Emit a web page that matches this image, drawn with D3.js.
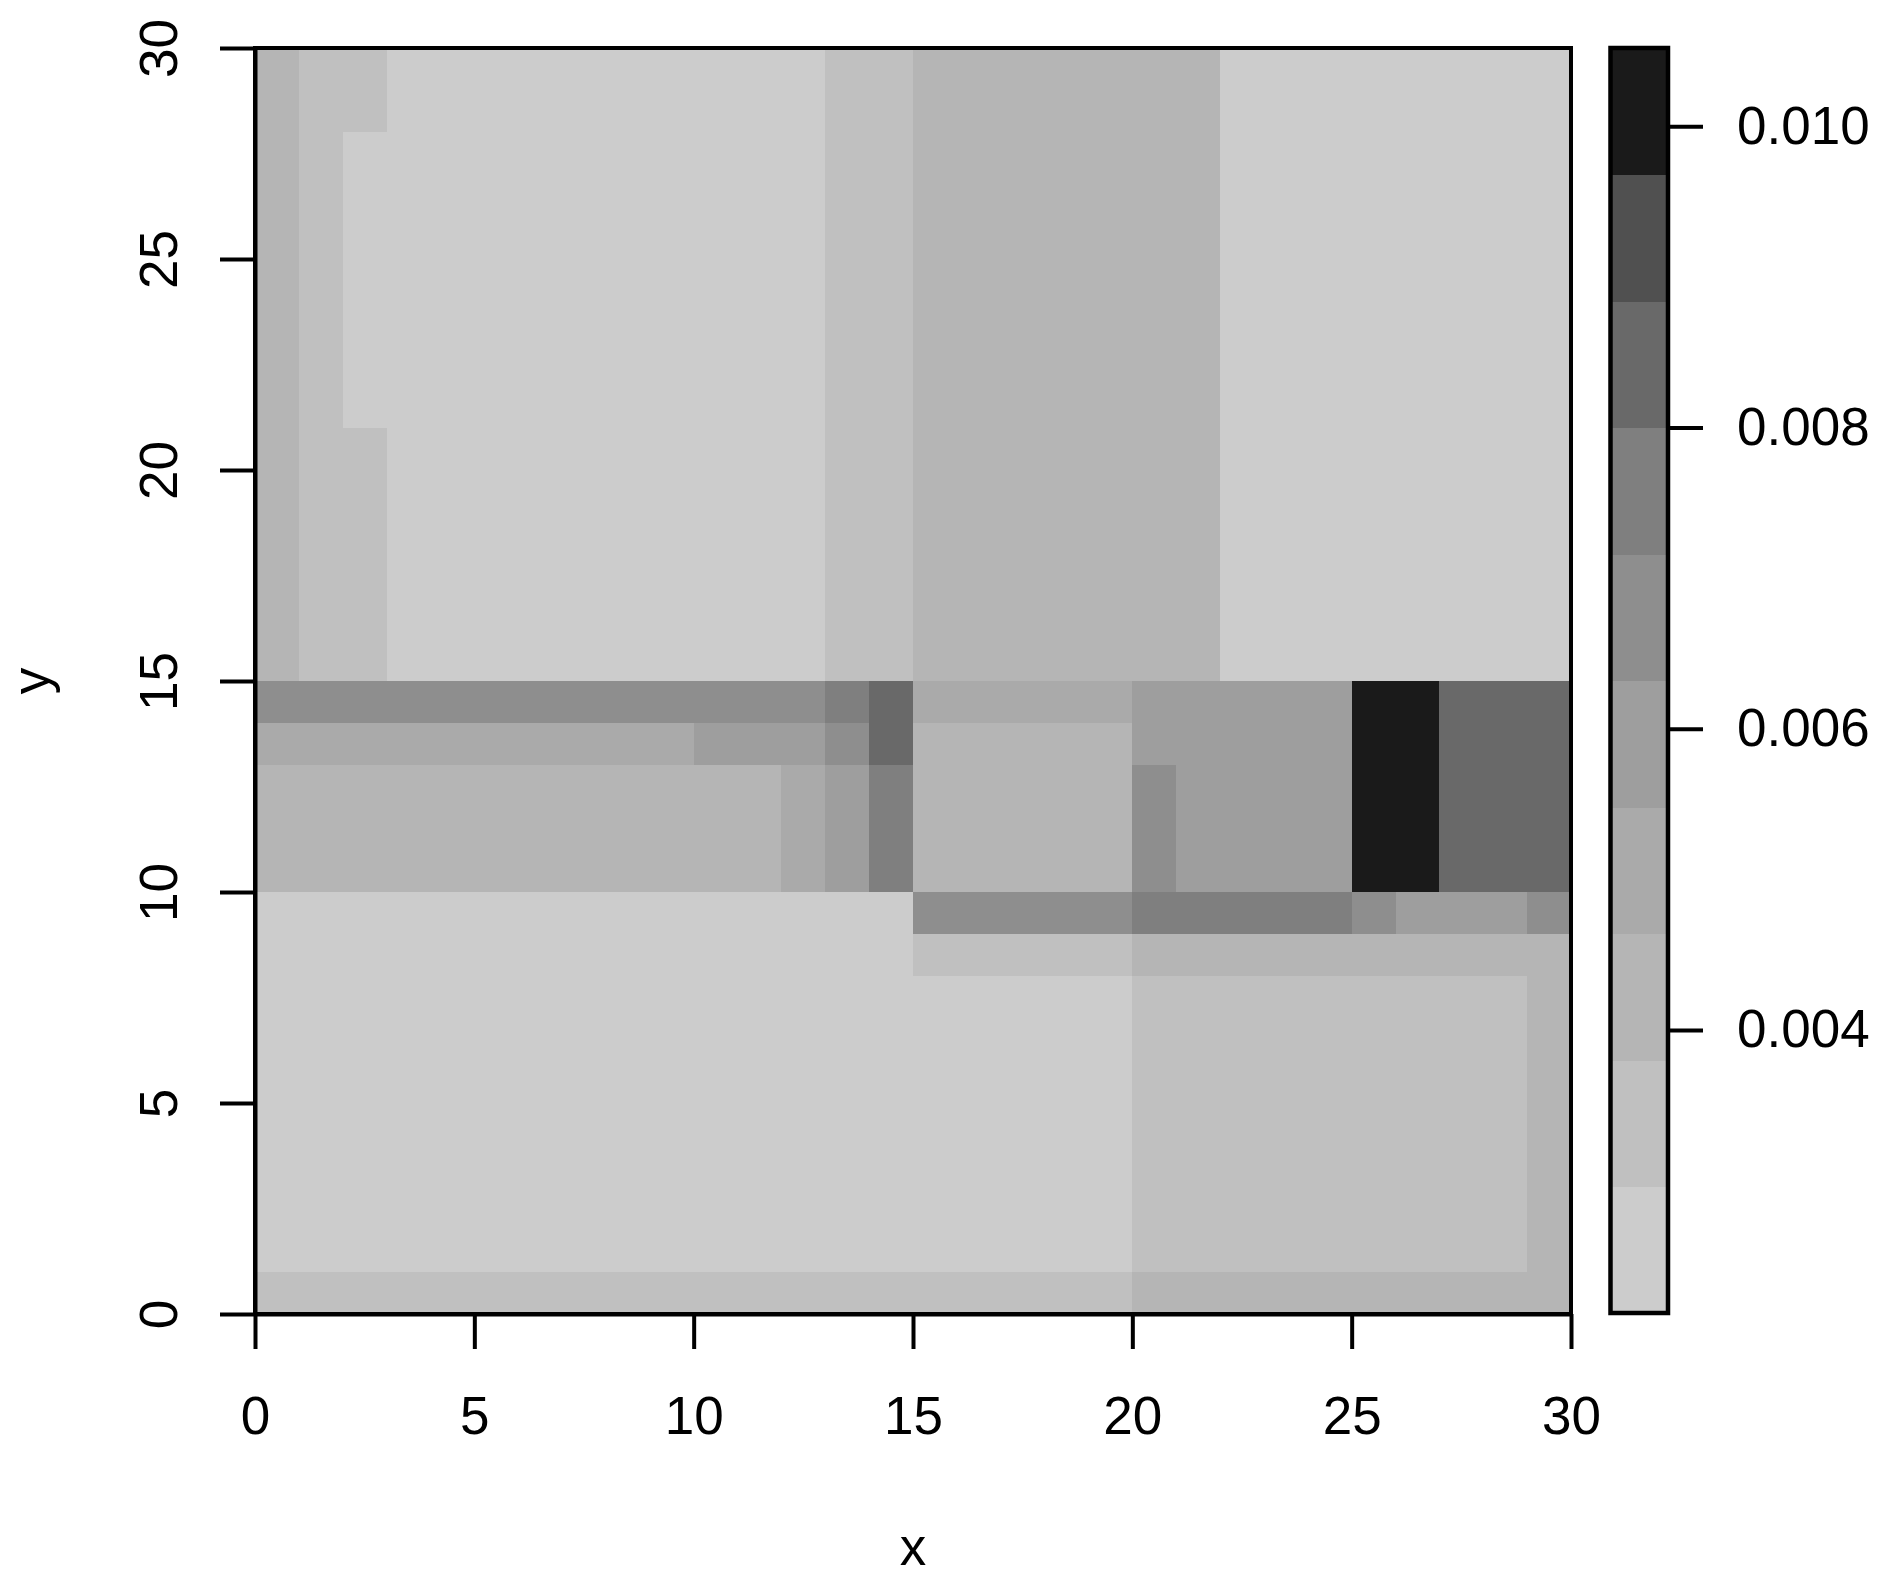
<!DOCTYPE html>
<html>
<head>
<meta charset="utf-8">
<script src="https://cdn.jsdelivr.net/npm/d3@7"></script>
<style>
  html, body { margin: 0; padding: 0; background: #fff; }
  svg text { font-family: "Liberation Sans", Arial, Helvetica, sans-serif; fill: #000; }
</style>
</head>
<body>
<svg id="chart" width="1885" height="1591"></svg>
<script>
// ---- data ----
const xTicks = [0, 5, 10, 15, 20, 25, 30];
const yTicks = [0, 5, 10, 15, 20, 25, 30];
const legendTicks = [0.004, 0.006, 0.008, 0.010];
const legendTickLabels = ["0.004", "0.006", "0.008", "0.010"];
const zRange = [0.00212, 0.01052];
const grayLevels = ["#CCCCCC", "#C0C0C0", "#B5B5B5", "#AAAAAA", "#9E9E9E",
                    "#8E8E8E", "#7F7F7F", "#696969", "#505050", "#1A1A1A"];
const xLabel = "x";
const yLabel = "y";

// z values, one row per y cell, listed from top (y 29-30) to bottom (y 0-1); 30 x cells each
const zRows = [
  [0.0042,0.0034,0.0034,0.0025,0.0025,0.0025,0.0025,0.0025,0.0025,0.0025,0.0025,0.0025,0.0025,0.0034,0.0034,0.0042,0.0042,0.0042,0.0042,0.0042,0.0042,0.0042,0.0025,0.0025,0.0025,0.0025,0.0025,0.0025,0.0025,0.0025],
  [0.0042,0.0034,0.0034,0.0025,0.0025,0.0025,0.0025,0.0025,0.0025,0.0025,0.0025,0.0025,0.0025,0.0034,0.0034,0.0042,0.0042,0.0042,0.0042,0.0042,0.0042,0.0042,0.0025,0.0025,0.0025,0.0025,0.0025,0.0025,0.0025,0.0025],
  [0.0042,0.0034,0.0025,0.0025,0.0025,0.0025,0.0025,0.0025,0.0025,0.0025,0.0025,0.0025,0.0025,0.0034,0.0034,0.0042,0.0042,0.0042,0.0042,0.0042,0.0042,0.0042,0.0025,0.0025,0.0025,0.0025,0.0025,0.0025,0.0025,0.0025],
  [0.0042,0.0034,0.0025,0.0025,0.0025,0.0025,0.0025,0.0025,0.0025,0.0025,0.0025,0.0025,0.0025,0.0034,0.0034,0.0042,0.0042,0.0042,0.0042,0.0042,0.0042,0.0042,0.0025,0.0025,0.0025,0.0025,0.0025,0.0025,0.0025,0.0025],
  [0.0042,0.0034,0.0025,0.0025,0.0025,0.0025,0.0025,0.0025,0.0025,0.0025,0.0025,0.0025,0.0025,0.0034,0.0034,0.0042,0.0042,0.0042,0.0042,0.0042,0.0042,0.0042,0.0025,0.0025,0.0025,0.0025,0.0025,0.0025,0.0025,0.0025],
  [0.0042,0.0034,0.0025,0.0025,0.0025,0.0025,0.0025,0.0025,0.0025,0.0025,0.0025,0.0025,0.0025,0.0034,0.0034,0.0042,0.0042,0.0042,0.0042,0.0042,0.0042,0.0042,0.0025,0.0025,0.0025,0.0025,0.0025,0.0025,0.0025,0.0025],
  [0.0042,0.0034,0.0025,0.0025,0.0025,0.0025,0.0025,0.0025,0.0025,0.0025,0.0025,0.0025,0.0025,0.0034,0.0034,0.0042,0.0042,0.0042,0.0042,0.0042,0.0042,0.0042,0.0025,0.0025,0.0025,0.0025,0.0025,0.0025,0.0025,0.0025],
  [0.0042,0.0034,0.0025,0.0025,0.0025,0.0025,0.0025,0.0025,0.0025,0.0025,0.0025,0.0025,0.0025,0.0034,0.0034,0.0042,0.0042,0.0042,0.0042,0.0042,0.0042,0.0042,0.0025,0.0025,0.0025,0.0025,0.0025,0.0025,0.0025,0.0025],
  [0.0042,0.0034,0.0025,0.0025,0.0025,0.0025,0.0025,0.0025,0.0025,0.0025,0.0025,0.0025,0.0025,0.0034,0.0034,0.0042,0.0042,0.0042,0.0042,0.0042,0.0042,0.0042,0.0025,0.0025,0.0025,0.0025,0.0025,0.0025,0.0025,0.0025],
  [0.0042,0.0034,0.0034,0.0025,0.0025,0.0025,0.0025,0.0025,0.0025,0.0025,0.0025,0.0025,0.0025,0.0034,0.0034,0.0042,0.0042,0.0042,0.0042,0.0042,0.0042,0.0042,0.0025,0.0025,0.0025,0.0025,0.0025,0.0025,0.0025,0.0025],
  [0.0042,0.0034,0.0034,0.0025,0.0025,0.0025,0.0025,0.0025,0.0025,0.0025,0.0025,0.0025,0.0025,0.0034,0.0034,0.0042,0.0042,0.0042,0.0042,0.0042,0.0042,0.0042,0.0025,0.0025,0.0025,0.0025,0.0025,0.0025,0.0025,0.0025],
  [0.0042,0.0034,0.0034,0.0025,0.0025,0.0025,0.0025,0.0025,0.0025,0.0025,0.0025,0.0025,0.0025,0.0034,0.0034,0.0042,0.0042,0.0042,0.0042,0.0042,0.0042,0.0042,0.0025,0.0025,0.0025,0.0025,0.0025,0.0025,0.0025,0.0025],
  [0.0042,0.0034,0.0034,0.0025,0.0025,0.0025,0.0025,0.0025,0.0025,0.0025,0.0025,0.0025,0.0025,0.0034,0.0034,0.0042,0.0042,0.0042,0.0042,0.0042,0.0042,0.0042,0.0025,0.0025,0.0025,0.0025,0.0025,0.0025,0.0025,0.0025],
  [0.0042,0.0034,0.0034,0.0025,0.0025,0.0025,0.0025,0.0025,0.0025,0.0025,0.0025,0.0025,0.0025,0.0034,0.0034,0.0042,0.0042,0.0042,0.0042,0.0042,0.0042,0.0042,0.0025,0.0025,0.0025,0.0025,0.0025,0.0025,0.0025,0.0025],
  [0.0042,0.0034,0.0034,0.0025,0.0025,0.0025,0.0025,0.0025,0.0025,0.0025,0.0025,0.0025,0.0025,0.0034,0.0034,0.0042,0.0042,0.0042,0.0042,0.0042,0.0042,0.0042,0.0025,0.0025,0.0025,0.0025,0.0025,0.0025,0.0025,0.0025],
  [0.0067,0.0067,0.0067,0.0067,0.0067,0.0067,0.0067,0.0067,0.0067,0.0067,0.0067,0.0067,0.0067,0.0076,0.0084,0.0051,0.0051,0.0051,0.0051,0.0051,0.0059,0.0059,0.0059,0.0059,0.0059,0.0101,0.0101,0.0084,0.0084,0.0084],
  [0.0051,0.0051,0.0051,0.0051,0.0051,0.0051,0.0051,0.0051,0.0051,0.0051,0.0059,0.0059,0.0059,0.0067,0.0084,0.0042,0.0042,0.0042,0.0042,0.0042,0.0059,0.0059,0.0059,0.0059,0.0059,0.0101,0.0101,0.0084,0.0084,0.0084],
  [0.0042,0.0042,0.0042,0.0042,0.0042,0.0042,0.0042,0.0042,0.0042,0.0042,0.0042,0.0042,0.0051,0.0059,0.0076,0.0042,0.0042,0.0042,0.0042,0.0042,0.0067,0.0059,0.0059,0.0059,0.0059,0.0101,0.0101,0.0084,0.0084,0.0084],
  [0.0042,0.0042,0.0042,0.0042,0.0042,0.0042,0.0042,0.0042,0.0042,0.0042,0.0042,0.0042,0.0051,0.0059,0.0076,0.0042,0.0042,0.0042,0.0042,0.0042,0.0067,0.0059,0.0059,0.0059,0.0059,0.0101,0.0101,0.0084,0.0084,0.0084],
  [0.0042,0.0042,0.0042,0.0042,0.0042,0.0042,0.0042,0.0042,0.0042,0.0042,0.0042,0.0042,0.0051,0.0059,0.0076,0.0042,0.0042,0.0042,0.0042,0.0042,0.0067,0.0059,0.0059,0.0059,0.0059,0.0101,0.0101,0.0084,0.0084,0.0084],
  [0.0025,0.0025,0.0025,0.0025,0.0025,0.0025,0.0025,0.0025,0.0025,0.0025,0.0025,0.0025,0.0025,0.0025,0.0025,0.0067,0.0067,0.0067,0.0067,0.0067,0.0076,0.0076,0.0076,0.0076,0.0076,0.0067,0.0059,0.0059,0.0059,0.0067],
  [0.0025,0.0025,0.0025,0.0025,0.0025,0.0025,0.0025,0.0025,0.0025,0.0025,0.0025,0.0025,0.0025,0.0025,0.0025,0.0034,0.0034,0.0034,0.0034,0.0034,0.0042,0.0042,0.0042,0.0042,0.0042,0.0042,0.0042,0.0042,0.0042,0.0042],
  [0.0025,0.0025,0.0025,0.0025,0.0025,0.0025,0.0025,0.0025,0.0025,0.0025,0.0025,0.0025,0.0025,0.0025,0.0025,0.0025,0.0025,0.0025,0.0025,0.0025,0.0034,0.0034,0.0034,0.0034,0.0034,0.0034,0.0034,0.0034,0.0034,0.0042],
  [0.0025,0.0025,0.0025,0.0025,0.0025,0.0025,0.0025,0.0025,0.0025,0.0025,0.0025,0.0025,0.0025,0.0025,0.0025,0.0025,0.0025,0.0025,0.0025,0.0025,0.0034,0.0034,0.0034,0.0034,0.0034,0.0034,0.0034,0.0034,0.0034,0.0042],
  [0.0025,0.0025,0.0025,0.0025,0.0025,0.0025,0.0025,0.0025,0.0025,0.0025,0.0025,0.0025,0.0025,0.0025,0.0025,0.0025,0.0025,0.0025,0.0025,0.0025,0.0034,0.0034,0.0034,0.0034,0.0034,0.0034,0.0034,0.0034,0.0034,0.0042],
  [0.0025,0.0025,0.0025,0.0025,0.0025,0.0025,0.0025,0.0025,0.0025,0.0025,0.0025,0.0025,0.0025,0.0025,0.0025,0.0025,0.0025,0.0025,0.0025,0.0025,0.0034,0.0034,0.0034,0.0034,0.0034,0.0034,0.0034,0.0034,0.0034,0.0042],
  [0.0025,0.0025,0.0025,0.0025,0.0025,0.0025,0.0025,0.0025,0.0025,0.0025,0.0025,0.0025,0.0025,0.0025,0.0025,0.0025,0.0025,0.0025,0.0025,0.0025,0.0034,0.0034,0.0034,0.0034,0.0034,0.0034,0.0034,0.0034,0.0034,0.0042],
  [0.0025,0.0025,0.0025,0.0025,0.0025,0.0025,0.0025,0.0025,0.0025,0.0025,0.0025,0.0025,0.0025,0.0025,0.0025,0.0025,0.0025,0.0025,0.0025,0.0025,0.0034,0.0034,0.0034,0.0034,0.0034,0.0034,0.0034,0.0034,0.0034,0.0042],
  [0.0025,0.0025,0.0025,0.0025,0.0025,0.0025,0.0025,0.0025,0.0025,0.0025,0.0025,0.0025,0.0025,0.0025,0.0025,0.0025,0.0025,0.0025,0.0025,0.0025,0.0034,0.0034,0.0034,0.0034,0.0034,0.0034,0.0034,0.0034,0.0034,0.0042],
  [0.0034,0.0034,0.0034,0.0034,0.0034,0.0034,0.0034,0.0034,0.0034,0.0034,0.0034,0.0034,0.0034,0.0034,0.0034,0.0034,0.0034,0.0034,0.0034,0.0034,0.0042,0.0042,0.0042,0.0042,0.0042,0.0042,0.0042,0.0042,0.0042,0.0042]
];

// ---- layout ----
const FONT = 53;
const LW = 4;
const plot = { left: 255, right: 1571, top: 48, bottom: 1314 };
const legendBox = { left: 1610.5, right: 1668 };

const svg = d3.select("#chart");
svg.append("rect").attr("width", 1885).attr("height", 1591).attr("fill", "#fff");

const x = d3.scaleLinear().domain([0, 30]).range([plot.left, plot.right]);
const y = d3.scaleLinear().domain([0, 30]).range([plot.bottom, plot.top]);
const color = d3.scaleQuantize().domain(zRange).range(grayLevels);

// cells
const nRows = zRows.length;
const cells = [];
zRows.forEach((row, r) => {
  if (row.length !== 30) throw new Error("row " + r + " has " + row.length + " values");
  const j = nRows - 1 - r;
  row.forEach((z, i) => cells.push({ i, j, z }));
});

svg.append("g").attr("shape-rendering", "crispEdges")
  .selectAll("rect").data(cells).join("rect")
  .attr("x", d => x(d.i))
  .attr("y", d => y(d.j + 1))
  .attr("width", d => x(d.i + 1) - x(d.i) + 0.5)
  .attr("height", d => y(d.j) - y(d.j + 1) + 0.5)
  .attr("fill", d => color(d.z));

// axes
const xAxis = svg.append("g")
  .attr("transform", `translate(0,${plot.bottom})`)
  .call(d3.axisBottom(x).tickValues(xTicks).tickSize(35).tickSizeOuter(0).tickPadding(47).tickFormat(d3.format("d")));
const yAxis = svg.append("g")
  .attr("transform", `translate(${plot.left},0)`)
  .call(d3.axisLeft(y).tickValues(yTicks).tickSize(35).tickSizeOuter(0).tickFormat(d3.format("d")));

[xAxis, yAxis].forEach(g => {
  g.attr("font-family", null).attr("font-size", null);
  g.selectAll("path.domain").attr("stroke", "#000").attr("stroke-width", LW);
  g.selectAll(".tick line").attr("stroke", "#000").attr("stroke-width", LW);
  g.selectAll(".tick text").attr("font-size", FONT).attr("fill", "#000");
});
yAxis.selectAll(".tick text")
  .attr("x", null).attr("dy", null)
  .attr("text-anchor", "middle")
  .attr("transform", "translate(-78,0) rotate(-90)");

// plot box
svg.append("rect")
  .attr("x", plot.left).attr("y", plot.top)
  .attr("width", plot.right - plot.left).attr("height", plot.bottom - plot.top)
  .attr("fill", "none").attr("stroke", "#000").attr("stroke-width", LW);

// axis titles
svg.append("text").attr("x", (plot.left + plot.right) / 2).attr("y", 1565)
  .attr("text-anchor", "middle").attr("font-size", FONT).text(xLabel);
svg.append("text")
  .attr("transform", `translate(49,${(plot.top + plot.bottom) / 2}) rotate(-90)`)
  .attr("text-anchor", "middle").attr("font-size", FONT).text(yLabel);

// legend
const ly = d3.scaleLinear().domain(zRange).range([plot.bottom - 1, plot.top]);
const step = (zRange[1] - zRange[0]) / grayLevels.length;
const bands = grayLevels.map((c, k) => ({ lo: zRange[0] + k * step, hi: zRange[0] + (k + 1) * step, c }));
svg.append("g").attr("shape-rendering", "crispEdges")
  .selectAll("rect").data(bands).join("rect")
  .attr("x", legendBox.left)
  .attr("y", d => ly(d.hi))
  .attr("width", legendBox.right - legendBox.left)
  .attr("height", d => ly(d.lo) - ly(d.hi) + 0.5)
  .attr("fill", d => d.c);
svg.append("rect")
  .attr("x", legendBox.left).attr("y", plot.top)
  .attr("width", legendBox.right - legendBox.left).attr("height", plot.bottom - 1 - plot.top)
  .attr("fill", "none").attr("stroke", "#000").attr("stroke-width", LW + 0.5);

const lAxis = svg.append("g")
  .attr("transform", `translate(${legendBox.right},0)`)
  .call(d3.axisRight(ly).tickValues(legendTicks).tickSize(35).tickPadding(34)
    .tickFormat((d, k) => legendTickLabels[k]));
lAxis.attr("font-family", null).attr("font-size", null);
lAxis.select("path.domain").remove();
lAxis.selectAll(".tick line").attr("stroke", "#000").attr("stroke-width", LW);
lAxis.selectAll(".tick text").attr("font-size", FONT).attr("fill", "#000");
</script>
</body>
</html>
